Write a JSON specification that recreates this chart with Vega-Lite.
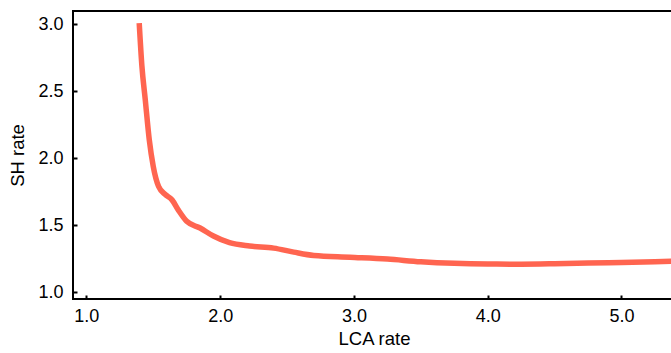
{
  "$schema": "https://vega.github.io/schema/vega-lite/v6.json",
  "autosize": "none",
  "width": 602,
  "height": 288,
  "padding": {"left": 73, "top": 11, "right": 0, "bottom": 54},
  "background": "white",
  "config": {
    "font": "Liberation Sans",
    "view": {"stroke": "black", "strokeWidth": 2},
    "axis": {
      "grid": false,
      "domain": false,
      "tickColor": "black",
      "tickSize": -4,
      "tickWidth": 2,
      "labelColor": "black",
      "titleColor": "black",
      "labelFont": "Liberation Sans",
      "titleFont": "Liberation Sans",
      "labelFontSize": 18,
      "titleFontSize": 18.5,
      "titleFontWeight": "normal"
    }
  },
  "data": {
    "values": [
      {"lca": 1.395, "sh": 3.01},
      {"lca": 1.415, "sh": 2.69},
      {"lca": 1.44, "sh": 2.44},
      {"lca": 1.47, "sh": 2.14},
      {"lca": 1.50, "sh": 1.94},
      {"lca": 1.54, "sh": 1.79},
      {"lca": 1.59, "sh": 1.73},
      {"lca": 1.64, "sh": 1.69},
      {"lca": 1.69, "sh": 1.61},
      {"lca": 1.75, "sh": 1.53},
      {"lca": 1.85, "sh": 1.48},
      {"lca": 1.95, "sh": 1.42},
      {"lca": 2.07, "sh": 1.37},
      {"lca": 2.22, "sh": 1.345},
      {"lca": 2.40, "sh": 1.33},
      {"lca": 2.55, "sh": 1.30},
      {"lca": 2.70, "sh": 1.275},
      {"lca": 2.97, "sh": 1.262},
      {"lca": 3.25, "sh": 1.248},
      {"lca": 3.5, "sh": 1.228},
      {"lca": 3.75, "sh": 1.216},
      {"lca": 4.0, "sh": 1.211},
      {"lca": 4.25, "sh": 1.21},
      {"lca": 4.5, "sh": 1.213},
      {"lca": 4.75, "sh": 1.218},
      {"lca": 5.0, "sh": 1.223},
      {"lca": 5.25, "sh": 1.229},
      {"lca": 5.4, "sh": 1.233}
    ]
  },
  "mark": {"type": "line", "color": "#ff6550", "strokeWidth": 5.5, "interpolate": "monotone", "clip": true, "strokeCap": "butt"},
  "encoding": {
    "x": {
      "field": "lca", "type": "quantitative",
      "scale": {"domain": [0.9, 5.4], "nice": false, "zero": false},
      "axis": {"title": "LCA rate", "values": [1, 2, 3, 4, 5], "format": ".1f", "labelPadding": 12, "titlePadding": 4}
    },
    "y": {
      "field": "sh", "type": "quantitative",
      "scale": {"domain": [0.95, 3.1], "nice": false, "zero": false},
      "axis": {"title": "SH rate", "values": [1, 1.5, 2, 2.5, 3], "format": ".1f", "labelPadding": 14, "titlePadding": 10}
    }
  }
}
